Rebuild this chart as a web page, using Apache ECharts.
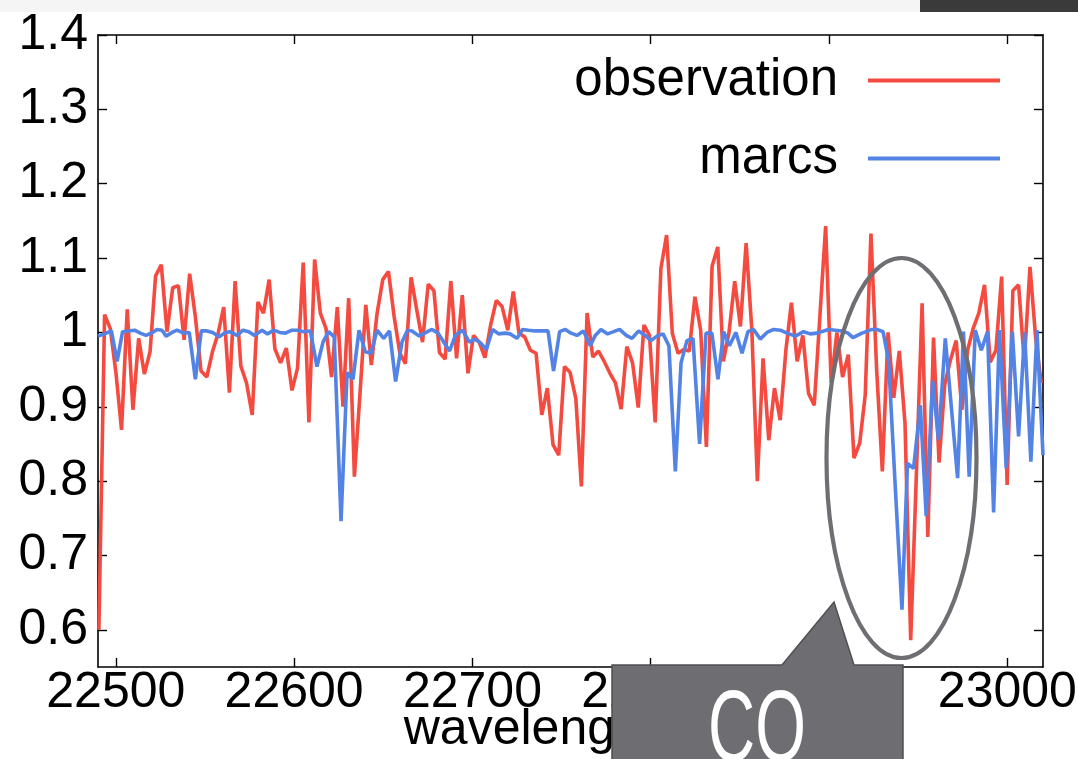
<!DOCTYPE html>
<html><head><meta charset="utf-8">
<script src="https://cdn.jsdelivr.net/npm/echarts@6/dist/echarts.min.js"></script>
<style>html,body{margin:0;padding:0;background:#fff;}#c{width:1078px;height:759px;}</style>
</head><body><div id="c"></div>
<script>
const obsWavelength = [22490.5,22493.7,22496.9,22500.1,22503.2,22506.4,22509.6,22512.8,22516.0,22519.2,
22522.3,22525.5,22528.7,22531.9,22535.1,22538.3,22541.4,22544.6,22547.8,22551.0,
22554.2,22557.4,22560.5,22563.7,22566.9,22570.1,22573.3,22576.5,22579.7,22582.8,
22586.0,22589.2,22592.4,22595.6,22598.8,22601.9,22605.1,22608.3,22611.5,22614.7,
22617.9,22621.0,22624.2,22627.4,22630.6,22633.8,22637.0,22640.2,22643.3,22646.5,
22649.7,22652.9,22656.1,22659.3,22662.4,22665.6,22668.8,22672.0,22675.2,22678.4,
22681.5,22684.7,22687.9,22691.1,22694.3,22697.5,22700.6,22703.8,22707.0,22710.2,
22713.4,22716.6,22719.8,22722.9,22726.1,22729.3,22732.5,22735.7,22738.9,22742.0,
22745.2,22748.4,22751.6,22754.8,22758.0,22761.1,22764.3,22767.5,22770.7,22773.9,
22777.1,22780.2,22783.4,22786.6,22789.8,22793.0,22796.2,22799.3,22802.5,22805.7,
22808.9,22812.1,22815.3,22818.5,22821.6,22824.8,22828.0,22831.2,22834.4,22837.6,
22840.7,22843.9,22847.1,22850.3,22853.5,22856.7,22859.8,22863.0,22866.2,22869.4,
22872.6,22875.8,22878.9,22882.1,22885.3,22888.5,22891.7,22894.9,22898.1,22901.2,
22904.4,22907.6,22910.8,22914.0,22917.2,22920.3,22923.5,22926.7,22929.9,22933.1,
22936.3,22939.4,22942.6,22945.8,22949.0,22952.2,22955.4,22958.6,22961.7,22964.9,
22968.1,22971.3,22974.5,22977.7,22980.8,22984.0,22987.2,22990.4,22993.6,22996.8,
22999.9,23003.1,23006.3,23009.5,23012.7,23015.9,23019.0];

const obsFlux = [0.600,1.024,1.005,0.945,0.869,1.031,0.896,0.992,0.944,0.974,
1.076,1.091,1.001,1.060,1.063,0.990,1.079,1.021,0.948,0.940,
0.974,0.999,1.034,0.919,1.069,0.955,0.932,0.889,1.041,1.026,
1.071,0.978,0.959,0.979,0.922,0.952,1.094,0.879,1.098,1.026,
1.005,0.940,1.034,0.900,1.046,0.806,0.920,1.037,0.956,1.025,
1.071,1.082,1.021,0.972,0.958,1.074,1.030,0.987,1.065,1.056,
0.973,0.964,1.069,0.965,1.050,0.945,0.996,0.987,0.966,1.010,
1.043,1.035,1.003,1.055,0.999,0.994,0.976,0.972,0.889,0.925,
0.849,0.835,0.954,0.946,0.911,0.793,1.026,0.967,0.975,0.961,
0.945,0.932,0.897,0.981,0.959,0.899,1.010,0.996,0.879,1.086,
1.131,0.999,0.972,0.977,0.975,1.048,1.003,0.846,1.089,1.115,
0.961,1.000,1.069,1.008,1.120,1.003,0.800,0.965,0.855,0.925,
0.882,0.976,1.040,0.961,0.996,0.918,0.902,1.023,1.143,0.932,
1.000,0.940,0.970,0.831,0.851,0.916,1.133,0.950,0.813,1.000,
0.912,0.975,0.878,0.586,0.810,1.039,0.725,0.993,0.825,0.930,
0.963,0.989,0.896,0.976,1.005,1.026,1.064,0.960,0.976,1.075,
0.795,1.056,1.064,0.960,1.088,0.992,0.932];

const marcsWavelength = [22490.0,22493.7,22497.5,22500.7,22503.8,22507.2,22510.5,22513.7,22516.9,22519.9,
22523.1,22525.9,22528.2,22531.5,22534.3,22538.0,22541.2,22544.6,22547.9,22551.1,
22554.3,22558.0,22561.4,22564.0,22568.0,22571.3,22574.5,22577.8,22582.0,22585.1,
22588.5,22591.9,22595.1,22598.8,22602.0,22605.3,22609.1,22612.8,22616.2,22619.3,
22622.5,22626.3,22629.7,22633.0,22636.4,22639.9,22643.1,22646.5,22650.2,22653.5,
22656.9,22660.5,22663.6,22666.1,22670.2,22674.0,22677.3,22680.7,22684.4,22687.2,
22690.4,22694.5,22698.2,22701.2,22704.4,22707.8,22711.3,22714.7,22718.4,22721.2,
22725.0,22728.1,22731.5,22735.3,22742.4,22745.5,22748.9,22752.1,22755.3,22758.6,
22762.3,22766.1,22768.9,22772.1,22775.8,22779.2,22782.5,22786.3,22789.5,22793.2,
22796.9,22800.1,22803.5,22806.9,22810.2,22813.8,22817.0,22820.3,22823.7,22827.4,
22831.0,22834.3,22837.7,22840.9,22844.1,22847.8,22851.2,22854.5,22857.7,22861.4,
22865.2,22868.9,22872.7,22876.4,22881.1,22885.7,22889.5,22893.2,22899.7,22907.3,
22910.6,22913.4,22918.5,22924.1,22926.9,22930.3,22933.4,22937.2,22940.9,22944.0,
22947.4,22951.2,22954.5,22958.1,22961.4,22965.2,22972.1,22975.4,22978.6,22982.0,
22985.4,22988.9,22992.3,22995.6,22999.4,23002.8,23006.3,23009.7,23013.2,23016.6,
23020.0];

const marcsFlux = [0.995,0.998,1.002,0.961,1.001,1.002,1.003,0.999,0.996,0.999,
1.004,1.003,0.995,1.000,1.003,0.999,1.000,0.937,1.002,1.002,
1.000,0.994,1.000,1.001,0.996,1.003,1.001,0.996,1.003,0.998,
1.003,1.000,0.999,1.003,1.003,1.001,1.002,0.954,0.987,1.001,
0.994,0.746,0.946,0.937,1.003,0.974,0.972,1.003,0.992,1.002,
0.934,0.987,1.003,1.002,0.995,1.000,1.004,0.999,0.985,0.975,
0.996,1.003,0.987,0.991,0.986,0.977,1.004,0.998,0.999,0.998,
0.992,1.004,1.003,1.002,1.002,0.948,1.001,1.004,0.999,0.996,
1.002,0.982,0.996,1.004,0.998,1.001,1.004,0.996,0.992,1.002,
0.996,0.989,0.995,0.998,0.982,0.813,0.959,0.989,0.992,0.850,
0.999,0.999,0.937,1.001,0.982,1.000,0.972,1.001,1.004,0.991,
1.000,1.004,1.003,0.999,0.995,1.001,0.998,0.999,1.004,1.002,
0.999,0.993,0.999,1.004,1.004,1.001,0.962,0.790,0.627,0.824,
0.817,0.902,0.753,0.935,0.855,0.992,0.804,1.001,0.806,1.003,
0.976,1.001,0.758,1.003,0.817,1.001,0.860,1.000,0.826,1.003,
0.835];

const xTicks = [22500, 22600, 22700, 22800, 22900, 23000];
const yTicks = [0.6, 0.7, 0.8, 0.9, 1, 1.1, 1.2, 1.3, 1.4];
const seriesNames = ['observation', 'marcs'];
const xAxisName = 'wavelength (Å)';
const calloutText = 'CO';

const FONT = "'Liberation Sans', Arial, Helvetica, sans-serif";
const RED = '#f44a3f';
const BLUE = '#5283e5';

const chart = echarts.init(document.getElementById('c'), null, {renderer: 'canvas'});

function pairs(xs, ys) { return xs.map((x, i) => [x, ys[i]]); }

const frameLine = {show: true, onZero: false, lineStyle: {color: '#000', width: 1.6}};
const tickStyle = {color: '#000', width: 1.4};

chart.setOption({
  animation: false,
  backgroundColor: '#fff',
  grid: {left: 98, right: 35, top: 35, bottom: 92, containLabel: false, outerBoundsMode: 'none'},
  legend: {
    orient: 'vertical', right: 78, top: 55, align: 'right', padding: 0,
    itemWidth: 132, itemHeight: 4, itemGap: 27, icon: 'rect',
    textStyle: {fontSize: 51, fontFamily: FONT, color: '#000', lineHeight: 50, padding: [0, 25, 0, 0]},
    data: seriesNames
  },
  xAxis: [{
    type: 'value', min: 22490, max: 23020, position: 'bottom',
    axisLine: frameLine,
    axisTick: {show: true, inside: true, length: 9, lineStyle: tickStyle, customValues: xTicks},
    axisLabel: {show: true, customValues: xTicks, fontSize: 50, fontFamily: FONT, color: '#000', margin: 1, lineHeight: 50,
      formatter: v => String(v)},
    splitLine: {show: false},
    name: xAxisName, nameLocation: 'middle', nameGap: 38, nameMoveOverlap: false,
    nameTextStyle: {fontSize: 50, fontFamily: FONT, color: '#000', lineHeight: 50}
  }, {
    type: 'value', min: 22490, max: 23020, position: 'top',
    axisLine: frameLine,
    axisTick: {show: true, inside: true, length: 9, lineStyle: tickStyle, customValues: xTicks},
    axisLabel: {show: false},
    splitLine: {show: false}
  }],
  yAxis: [{
    type: 'value', min: 0.55, max: 1.4, position: 'left',
    axisLine: frameLine,
    axisTick: {show: true, inside: true, length: 9, lineStyle: tickStyle, customValues: yTicks},
    axisLabel: {show: true, customValues: yTicks, fontSize: 50, fontFamily: FONT, color: '#000', margin: 10,
      formatter: v => String(Math.round(v * 10) / 10)},
    splitLine: {show: false}
  }, {
    type: 'value', min: 0.55, max: 1.4, position: 'right',
    axisLine: frameLine,
    axisTick: {show: true, inside: true, length: 9, lineStyle: tickStyle, customValues: yTicks},
    axisLabel: {show: false},
    splitLine: {show: false}
  }],
  series: [{
    name: seriesNames[0], type: 'line', xAxisIndex: 0, yAxisIndex: 0,
    data: pairs(obsWavelength, obsFlux), showSymbol: false, symbol: 'none',
    color: RED, lineStyle: {color: RED, width: 3.6}, z: 3, clip: true
  }, {
    name: seriesNames[1], type: 'line', xAxisIndex: 0, yAxisIndex: 0,
    data: pairs(marcsWavelength, marcsFlux), showSymbol: false, symbol: 'none',
    color: BLUE, lineStyle: {color: BLUE, width: 3.6}, z: 4, clip: true
  }],
  graphic: [
    {type: 'rect', z: 100, shape: {x: 0, y: 0, width: 1078, height: 12}, style: {fill: '#f5f5f5'}},
    {type: 'rect', z: 101, shape: {x: 920, y: 0, width: 158, height: 12}, style: {fill: '#3a3a3a'}},
    {type: 'ellipse', z: 100, shape: {cx: 901.5, cy: 458, rx: 75, ry: 200},
      style: {fill: 'none', stroke: '#6f6f73', lineWidth: 4.2}},
    {type: 'polygon', z: 102,
      shape: {points: [[612, 665], [782, 665], [834, 602], [854, 665], [903, 665], [903, 775], [612, 775]]},
      style: {fill: '#6e6e72', stroke: '#505053', lineWidth: 1.5}},
    {type: 'text', z: 103, x: 757, y: 682, scaleX: 0.64,
      style: {text: calloutText, fill: '#ffffff', fontSize: 102, fontFamily: FONT, textAlign: 'center', textVerticalAlign: 'top'}}
  ]
});
</script>
</body></html>
